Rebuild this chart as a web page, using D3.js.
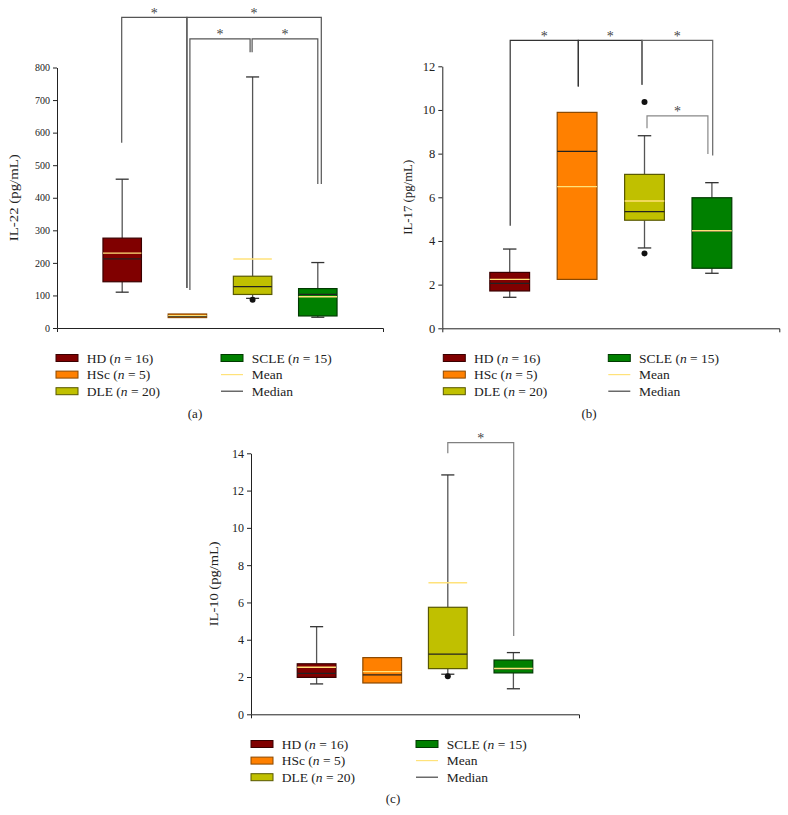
<!DOCTYPE html>
<html><head><meta charset="utf-8">
<script src="https://cdn.jsdelivr.net/npm/d3@7"></script>
<style>body{margin:0;background:#fff}svg{display:block}</style>
</head><body>
<svg id="chart" width="788" height="815"></svg>
<script>
// ---------- DATA ----------
const groups = ["HD", "HSc", "DLE", "SCLE"];
const groupN = [16, 5, 20, 15];

// IL-22 (pg/mL)
const il22Ticks = [0, 100, 200, 300, 400, 500, 600, 700, 800];
const il22Low    = [110, null, 91, 33];
const il22Q1     = [142, 32, 103, 37];
const il22Median = [212, 36, 127, 103];
const il22Mean   = [230, 38, 212, 96];
const il22Q3     = [276, 43, 159, 121];
const il22High   = [457, null, 771, 201];
const il22Outliers = [[], [], [87], []];
// significance brackets: group a, group b, bracket top, leg end at a, leg end at b
const il22Brackets = [
  {a: 0, b: 1, top: 954, endA: 569, endB: 123},
  {a: 1, b: 3, top: 954, endA: 123, endB: 442},
  {a: 1, b: 2, top: 888, endA: 117, endB: 847},
  {a: 2, b: 3, top: 888, endA: 847, endB: 442}
];

// IL-17 (pg/mL)
const il17Ticks = [0, 2, 4, 6, 8, 10, 12];
const il17Low    = [1.42, null, 3.68, 2.52];
const il17Q1     = [1.71, 2.24, 4.95, 2.75];
const il17Median = [2.06, 8.10, 5.34, 4.45];
const il17Mean   = [2.24, 6.49, 5.83, 4.47];
const il17Q3     = [2.56, 9.89, 7.05, 5.98];
const il17High   = [3.63, null, 8.82, 6.67];
const il17Outliers = [[], [], [10.37, 3.43], []];
const il17Brackets = [
  {a: 0, b: 1, top: 13.19, endA: 4.70, endB: 11.07},
  {a: 1, b: 2, top: 13.19, endA: 11.07, endB: 11.15},
  {a: 2, b: 3, top: 13.19, endA: 11.15, endB: 7.92},
  {a: 2, b: 3, top: 9.73, endA: 9.16, endB: 7.98}
];

// IL-10 (pg/mL)
const il10Ticks = [0, 2, 4, 6, 8, 10, 12, 14];
const il10Low    = [1.63, null, 2.15, 1.37];
const il10Q1     = [1.98, 1.68, 2.45, 2.22];
const il10Median = [2.20, 2.11, 3.23, 2.44];
const il10Mean   = [2.52, 2.29, 7.06, 2.46];
const il10Q3     = [2.71, 3.04, 5.74, 2.91];
const il10High   = [4.70, null, 12.84, 3.31];
const il10Outliers = [[], [], [2.04], []];
const il10Brackets = [
  {a: 2, b: 3, top: 14.57, endA: 14.0, endB: 4.2}
];

// ---------- STYLE / LAYOUT ----------
const fillColors   = ["#800000", "#ff8000", "#c0c000", "#008000"];
const strokeColors = ["#3a0000", "#8a4800", "#585800", "#003a00"];
const meanColor = "#ffe27a";
const medianColor = "#222";
const serif = "'Liberation Serif', 'Times New Roman', serif";

const panels = [
  {label: "(a)", yTitle: "IL-22 (pg/mL)", ticks: il22Ticks,
   low: il22Low, q1: il22Q1, med: il22Median, mean: il22Mean, q3: il22Q3, high: il22High, out: il22Outliers,
   brackets: il22Brackets,
   bStyle: [{n: [-0.5, -0.5], c: "#555"}, {n: [-0.5, 3.5], c: "#555"}, {n: [2.5, -2.5], c: "#555"}, {n: [-0.5, 0], c: "#555"}],
   x0: 57, x1: 383, y0: 67.5, y1: 328, tickFont: 10, titleLen: 87, titleX: 18,
   legX: 56, legY: 358, labX: 195, labY: 418},
  {label: "(b)", yTitle: "IL-17 (pg/mL)", ticks: il17Ticks,
   low: il17Low, q1: il17Q1, med: il17Median, mean: il17Mean, q3: il17Q3, high: il17High, out: il17Outliers,
   brackets: il17Brackets,
   bStyle: [{n: [0.5, 1.2], c: "#333"}, {n: [1.2, -2.5], c: "#333"}, {n: [-2.5, 0.8], c: "#666"}, {n: [2.5, -4], c: "#888"}],
   x0: 442.3, x1: 779.3, y0: 66.3, y1: 328.3, tickFont: 12.5, titleLen: 75, titleX: 412,
   legX: 443.3, legY: 358, labX: 589, labY: 418},
  {label: "(c)", yTitle: "IL-10 (pg/mL)", ticks: il10Ticks,
   low: il10Low, q1: il10Q1, med: il10Median, mean: il10Mean, q3: il10Q3, high: il10High, out: il10Outliers,
   brackets: il10Brackets,
   bStyle: [{n: [0, 0.3], c: "#808080"}],
   x0: 251, x1: 579, y0: 453.3, y1: 714.3, tickFont: 12, titleLen: 85, titleX: 218,
   legX: 251, legY: 744, labX: 393, labY: 803}
];

const svg = d3.select("#chart");

panels.forEach(p => {
  const g = svg.append("g");
  const x = d3.scalePoint().domain(groups).range([p.x0, p.x1]).padding(1);
  const y = d3.scaleLinear().domain([0, d3.max(p.ticks)]).range([p.y1, p.y0]);
  const bw = x.step() * 0.59;
  const cw = x.step() * 0.2;

  // axes
  const ya = g.append("g").attr("transform", `translate(${p.x0},0)`)
    .call(d3.axisLeft(y).tickValues(p.ticks).tickSize(4).tickSizeOuter(0).tickPadding(3));
  ya.selectAll("text").attr("font-family", serif).attr("font-size", p.tickFont).attr("fill", "#222");
  ya.selectAll("line,path").attr("stroke", "#222");
  const xa = g.append("g").attr("transform", `translate(0,${p.y1})`)
    .call(d3.axisBottom(x).tickValues([]).tickSizeOuter(4));
  xa.selectAll("path").attr("stroke", "#222");

  // y title
  g.append("text")
    .attr("transform", `translate(${p.titleX},${(p.y0 + p.y1) / 2}) rotate(-90)`)
    .attr("text-anchor", "middle").attr("font-family", serif).attr("font-size", 13)
    .attr("textLength", p.titleLen).attr("lengthAdjust", "spacingAndGlyphs")
    .attr("fill", "#222").text(p.yTitle);

  // boxes
  groups.forEach((grp, i) => {
    const cx = x(grp);
    const bg = g.append("g");
    const wc = "#555";
    if (p.high[i] != null) {
      bg.append("line").attr("x1", cx).attr("x2", cx).attr("y1", y(p.q3[i])).attr("y2", y(p.high[i]))
        .attr("stroke", wc).attr("stroke-width", 1.3);
      bg.append("line").attr("x1", cx - cw / 2).attr("x2", cx + cw / 2).attr("y1", y(p.high[i])).attr("y2", y(p.high[i]))
        .attr("stroke", "#333").attr("stroke-width", 1.3);
    }
    if (p.low[i] != null) {
      bg.append("line").attr("x1", cx).attr("x2", cx).attr("y1", y(p.q1[i])).attr("y2", y(p.low[i]))
        .attr("stroke", wc).attr("stroke-width", 1.3);
      bg.append("line").attr("x1", cx - cw / 2).attr("x2", cx + cw / 2).attr("y1", y(p.low[i])).attr("y2", y(p.low[i]))
        .attr("stroke", "#333").attr("stroke-width", 1.3);
    }
    bg.append("rect").attr("x", cx - bw / 2).attr("width", bw)
      .attr("y", y(p.q3[i])).attr("height", y(p.q1[i]) - y(p.q3[i]))
      .attr("fill", fillColors[i]).attr("stroke", strokeColors[i]).attr("stroke-width", 1.2);
    bg.append("line").attr("x1", cx - bw / 2).attr("x2", cx + bw / 2).attr("y1", y(p.med[i])).attr("y2", y(p.med[i]))
      .attr("stroke", medianColor).attr("stroke-width", 1.2);
    bg.append("line").attr("x1", cx - bw / 2).attr("x2", cx + bw / 2).attr("y1", y(p.mean[i])).attr("y2", y(p.mean[i]))
      .attr("stroke", meanColor).attr("stroke-width", 1.4);
    p.out[i].forEach(v => {
      bg.append("circle").attr("cx", cx).attr("cy", y(v)).attr("r", 3).attr("fill", "#111");
    });
  });

  // significance brackets
  p.brackets.forEach((b, k) => {
    const st = p.bStyle[k];
    const xa1 = x(groups[b.a]) + st.n[0];
    const xb1 = x(groups[b.b]) + st.n[1];
    const yt = y(b.top);
    g.append("path")
      .attr("d", `M${xa1},${y(b.endA)}V${yt}H${xb1}V${y(b.endB)}`)
      .attr("fill", "none").attr("stroke", st.c).attr("stroke-width", 1.2);
    g.append("text").attr("x", (xa1 + xb1) / 2).attr("y", yt + 0.5)
      .attr("text-anchor", "middle").attr("font-family", serif).attr("font-size", 14)
      .attr("fill", "#444").text("*");
  });

  // legend
  const lg = g.append("g").attr("font-family", serif).attr("font-size", 13.5).attr("fill", "#222");
  const rowH = 16.6, colW = 165, txtOff = 30.7, sw = 22, sh = 7;
  const addText = (tx, ty, name, n) => {
    const t = lg.append("text").attr("x", tx).attr("y", ty + 4.6);
    if (n == null) { t.text(name); return; }
    t.append("tspan").text(name + " (");
    t.append("tspan").attr("font-style", "italic").text("n");
    t.append("tspan").text(" = " + n + ")");
  };
  const slots = [
    {col: 0, row: 0, kind: "box", i: 0},
    {col: 0, row: 1, kind: "box", i: 1},
    {col: 0, row: 2, kind: "box", i: 2},
    {col: 1, row: 0, kind: "box", i: 3},
    {col: 1, row: 1, kind: "mean"},
    {col: 1, row: 2, kind: "median"}
  ];
  slots.forEach(s => {
    const lx = p.legX + s.col * colW;
    const ly = p.legY + s.row * rowH;
    if (s.kind === "box") {
      lg.append("rect").attr("x", lx).attr("y", ly - sh / 2).attr("width", sw).attr("height", sh)
        .attr("fill", fillColors[s.i]).attr("stroke", strokeColors[s.i]).attr("stroke-width", 1);
      addText(lx + txtOff, ly, groups[s.i], groupN[s.i]);
    } else {
      lg.append("line").attr("x1", lx).attr("x2", lx + sw).attr("y1", ly).attr("y2", ly)
        .attr("stroke", s.kind === "mean" ? meanColor : "#444").attr("stroke-width", 1.2);
      addText(lx + txtOff, ly, s.kind === "mean" ? "Mean" : "Median", null);
    }
  });

  // panel label
  g.append("text").attr("x", p.labX).attr("y", p.labY).attr("text-anchor", "middle")
    .attr("font-family", serif).attr("font-size", 13).attr("fill", "#222").text(p.label);
});
</script>
</body></html>
